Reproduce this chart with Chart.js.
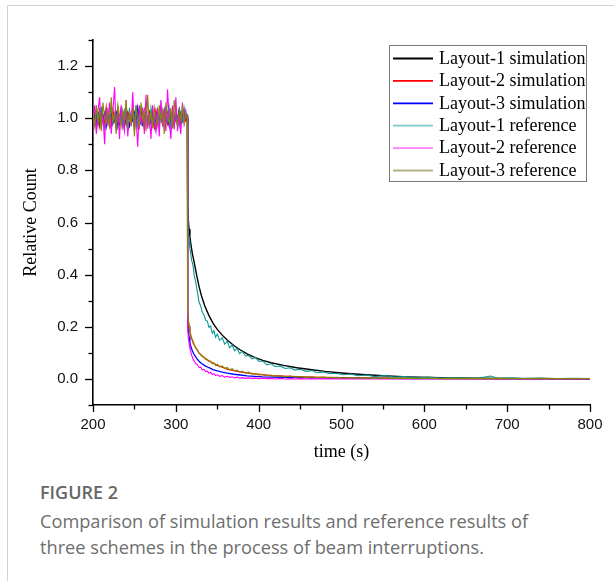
<!DOCTYPE html>
<html>
<head>
<meta charset="utf-8">
<script src="https://cdn.jsdelivr.net/npm/chart.js@4.4.1/dist/chart.umd.min.js"></script>
<style>
  html, body { margin: 0; padding: 0; background: #fff; }
  body { width: 614px; height: 581px; position: relative; overflow: hidden; }
  #frame { position: absolute; left: 7px; top: 5px; width: 620px; height: 600px;
           border-top: 1px solid #d2d2d2; border-left: 1px solid #d2d2d2; }
  #c { position: absolute; left: 0; top: 0; }
  .cap { position: absolute; left: 40px; font-family: "Open Sans", "Noto Sans", sans-serif; color: #6e6e6e; white-space: nowrap; }
  #figno { top: 480px; font-size: 18px; font-weight: 600; color: #666; }
  #capt { top: 508px; font-size: 18.2px; line-height: 26px; }
</style>
</head>
<body>
<div id="frame"></div>
<canvas id="c" width="614" height="470"></canvas>
<div class="cap" id="figno">FIGURE 2</div>
<div class="cap" id="capt">Comparison of simulation results and reference results of<br>three schemes in the process of beam interruptions.</div>
<script>
// ---------- data ----------
const seriesNames = ["Layout-1 simulation","Layout-2 simulation","Layout-3 simulation",
                     "Layout-1 reference","Layout-2 reference","Layout-3 reference"];
const xTicks = [200,300,400,500,600,700,800];
const yTicks = [0.0,0.2,0.4,0.6,0.8,1.0,1.2];

// time points while the beam is on (s)
const tNoise = [200,202,204,206,208,210,212,214,216,218,
                220,222,224,226,228,230,232,234,236,238,
                240,242,244,246,248,250,252,254,256,258,
                260,262,264,266,268,270,272,274,276,278,
                280,282,284,286,288,290,292,294,296,298,
                300,302,304,306,308,310,312,314];
// time points after interruption, simulation curves (s)
const tSim = [314.3,315,316,317,318, 320,322,325,328,331, 335,340,345,350,356,
              362,370,378,386,395, 405,415,430,446,462, 480,500,525,550,580,
              620,660,700,750,800];
// time points after interruption, reference curves (s)
const tRef = [314.3,315,316,317,318,319,320,321,322,324,
              326,328,330,332,334,336,338,340,342,344,
              346,348,350,353,356,359,362,365,368,371,
              374,377,380,384,388,392,396,400,405,410,
              415,420,426,432,438,444,450,457,464,471,
              478,486,494,502,511,520,530,540,552,564,
              576,590,605,620,636,652,668,680,690,705,
              720,740,760,780,800];

// beam-on relative counts
const l1SimOn = [1.01,0.99,1.02,0.98,1.00,1.03,0.99,1.01,0.98,1.02,
                 1.00,0.97,1.01,0.99,1.02,1.00,0.98,1.03,0.99,1.01,
                 0.98,1.02,1.00,0.99,1.01,0.97,1.02,1.00,0.99,1.03,
                 0.98,1.01,1.00,0.98,1.02,0.99,1.01,0.97,1.02,1.00,
                 0.99,1.03,0.98,1.01,0.99,1.02,1.00,0.98,1.01,0.99,
                 1.03,0.98,1.00,1.02,0.99,1.01,1.00,1.00];
const l2SimOn = [1.00,1.03,0.98,1.01,0.97,1.02,1.00,0.98,1.04,0.99,
                 1.01,0.97,1.03,1.00,0.98,1.02,0.99,1.03,0.97,1.01,
                 1.00,0.98,1.02,0.99,1.04,0.98,1.00,1.02,0.97,1.01,
                 0.99,1.03,1.00,0.98,1.02,0.99,1.01,0.97,1.03,1.00,
                 0.98,1.02,1.00,0.99,1.03,0.98,1.01,0.99,1.02,0.97,
                 1.01,1.00,1.03,0.98,1.00,1.02,0.99,1.00];
const l3SimOn = [0.99,1.02,0.97,1.01,1.03,0.98,1.00,1.02,0.97,1.01,
                 0.99,1.03,0.98,1.00,1.02,0.97,1.01,0.99,1.02,0.98,
                 1.03,1.00,0.97,1.01,0.99,1.02,0.98,1.04,1.00,0.98,
                 1.01,0.97,1.02,0.99,1.01,0.98,1.03,1.00,0.97,1.02,
                 0.99,1.01,0.98,1.03,0.99,1.00,0.97,1.02,1.00,0.98,
                 1.01,0.99,1.03,0.98,1.01,0.99,1.00,1.01];
const l1RefOn = [1.01,0.98,1.03,0.97,1.02,1.04,0.99,0.96,1.03,1.00,
                 0.97,1.05,0.98,1.01,0.96,1.04,0.99,1.02,0.97,1.03,
                 1.00,0.95,1.04,0.98,1.02,0.99,1.05,0.97,1.01,0.98,
                 1.03,0.96,1.02,1.00,0.97,1.04,0.99,1.01,0.96,1.03,
                 0.98,1.05,1.00,0.97,1.02,0.99,1.04,0.96,1.01,0.98,
                 1.03,1.00,0.97,1.02,0.99,1.04,1.00,1.01];
const l2RefOn = [0.98,1.05,0.94,1.03,1.08,0.96,1.01,0.90,1.04,0.97,
                 1.06,0.94,1.02,1.12,0.96,1.04,0.92,1.05,0.99,0.95,
                 1.07,0.93,1.03,0.97,1.10,0.95,1.00,0.89,1.05,0.98,
                 1.04,0.94,1.09,0.96,1.02,0.92,1.05,0.99,0.95,1.04,
                 0.93,1.07,0.97,1.03,0.95,1.11,0.99,0.92,1.05,0.96,
                 1.08,0.95,1.01,0.94,1.06,0.98,1.03,0.99];
const l3RefOn = [1.02,0.97,1.05,0.99,1.03,0.95,1.06,1.00,0.98,1.04,
                 0.96,1.08,0.99,1.02,0.94,1.05,1.01,0.97,1.03,0.99,
                 1.07,0.96,1.02,0.98,1.04,0.93,1.05,1.00,0.97,1.06,
                 0.99,1.03,0.95,1.09,0.98,1.02,0.96,1.04,1.00,0.97,
                 1.05,0.99,1.03,0.94,1.06,1.01,0.98,1.04,0.96,1.07,
                 1.00,0.97,1.03,0.99,1.05,0.98,1.02,1.01];

// after-interruption relative counts
const l1SimOff = [0.66,0.61,0.575,0.545,0.52, 0.48,0.45,0.40,0.355,0.318,
                  0.28,0.243,0.213,0.19,0.168, 0.149,0.128,0.111,0.096,0.083,
                  0.071,0.062,0.052,0.043,0.036, 0.029,0.023,0.017,0.012,0.008,
                  0.005,0.003,0.002,0.001,0.0005];
const l2SimOff = [0.26,0.225,0.20,0.18,0.165, 0.148,0.132,0.115,0.10,0.09,
                  0.08,0.069,0.06,0.052,0.045, 0.038,0.032,0.027,0.023,0.019,
                  0.016,0.013,0.011,0.009,0.007, 0.006,0.005,0.004,0.003,0.0025,
                  0.002,0.0015,0.001,0.001,0.0005];
const l3SimOff = [0.22,0.185,0.16,0.14,0.125, 0.107,0.094,0.08,0.068,0.059,
                  0.051,0.043,0.036,0.031,0.026, 0.022,0.018,0.015,0.012,0.01,
                  0.008,0.007,0.006,0.005,0.004, 0.003,0.003,0.002,0.002,0.0015,
                  0.001,0.001,0.0005,0.0005,0];
const l1RefOff = [0.62,0.57,0.53,0.50,0.48,0.455,0.445,0.43,0.40,0.37,
                  0.335,0.295,0.28,0.255,0.245,0.225,0.222,0.198,0.203,0.175,
                  0.185,0.16,0.172,0.148,0.158,0.133,0.145,0.12,0.13,0.108,
                  0.118,0.097,0.106,0.088,0.09,0.076,0.083,0.068,0.068,0.054,
                  0.058,0.047,0.05,0.04,0.043,0.034,0.037,0.029,0.032,0.024,
                  0.027,0.02,0.022,0.016,0.019,0.012,0.015,0.009,0.013,0.007,
                  0.009,0.004,0.007,0.003,0.005,0.002,0.004,0.011,0.002,0.004,
                  0.001,0.003,0.001,0.002,0.001];
const l2RefOff = [0.20,0.16,0.135,0.115,0.105,0.09,0.085,0.073,0.07,0.058,
                  0.055,0.044,0.045,0.035,0.037,0.028,0.03,0.022,0.025,0.017,
                  0.02,0.013,0.016,0.01,0.013,0.007,0.01,0.006,0.008,0.004,
                  0.007,0.003,0.005,0.002,0.004,0.002,0.003,0.001,0.003,0.001,
                  0.002,0.0,0.002,0.0,0.001,0.0,0.001,0.0,0.001,0.0,
                  0.001,0.0,0.001,0.0,0.001,0.0,0.0,0.0,0.001,0.0,
                  0.0,0.0,0.001,0.0,0.0,0.0,0.0,0.0,0.0,0.0,
                  0.0,0.0,0.0,0.0,0.0];
const l3RefOff = [0.27,0.23,0.205,0.18,0.17,0.155,0.15,0.135,0.132,0.118,
                  0.112,0.098,0.095,0.085,0.084,0.074,0.075,0.066,0.068,0.058,
                  0.062,0.052,0.056,0.046,0.05,0.04,0.044,0.035,0.039,0.031,
                  0.034,0.026,0.03,0.022,0.026,0.018,0.021,0.015,0.018,0.012,
                  0.015,0.01,0.012,0.008,0.011,0.007,0.009,0.006,0.008,0.005,
                  0.007,0.004,0.006,0.003,0.005,0.003,0.004,0.002,0.004,0.002,
                  0.003,0.001,0.003,0.001,0.002,0.001,0.002,0.001,0.002,0.001,
                  0.001,0.002,0.001,0.001,0.001];

const colors = ['#000000','#ff0000','#0000ff','#0a9696','#ff00ff','#888800'];
const legendColors = ['#000000','#ff0000','#0000ff','#7fcaca','#ff7fff','#b3b380'];

// ---------- build ----------
function pts(tA, vA) {
  const n = Math.min(tA.length, vA.length), out = [];
  for (let i = 0; i < n; i++) out.push({x: tA[i], y: vA[i]});
  return out;
}
const seriesData = [
  pts(tNoise, l1SimOn).concat(pts(tSim, l1SimOff)),
  pts(tNoise, l2SimOn).concat(pts(tSim, l2SimOff)),
  pts(tNoise, l3SimOn).concat(pts(tSim, l3SimOff)),
  pts(tNoise, l1RefOn).concat(pts(tRef, l1RefOff)),
  pts(tNoise, l2RefOn).concat(pts(tRef, l2RefOff)),
  pts(tNoise, l3RefOn).concat(pts(tRef, l3RefOff))
];
const drawOrder = [5, 4, 3, 2, 1, 0]; // later series drawn on top
const widths = [1.4, 1.3, 1.3, 1.1, 1.1, 1.1];

const datasets = seriesNames.map((name, i) => ({
  label: name, data: seriesData[i], borderColor: colors[i], backgroundColor: colors[i],
  borderWidth: widths[i], pointRadius: 0, tension: 0, fill: false, order: drawOrder[i]
}));

const PLOT = {left: 93, right: 590, top: 40, bottom: 405};

const ticksAndLegend = {
  id: 'ticksAndLegend',
  afterDraw(chart) {
    const ctx = chart.ctx;
    const xs = chart.scales.x, ys = chart.scales.y;
    const ca = chart.chartArea;
    ctx.save();
    ctx.strokeStyle = '#000';
    ctx.lineWidth = 1.3;
    ys.ticks.forEach(t => {
      const py = Math.round(ys.getPixelForValue(t.value)) + 0.5;
      const major = yTicks.some(v => Math.abs(v - t.value) < 1e-6);
      const len = major ? 8 : 4.5;
      ctx.beginPath(); ctx.moveTo(ca.left, py); ctx.lineTo(ca.left - len, py); ctx.stroke();
    });
    xs.ticks.forEach(t => {
      const px = Math.round(xs.getPixelForValue(t.value)) + 0.5;
      const major = xTicks.some(v => Math.abs(v - t.value) < 1e-6);
      const len = major ? 7 : 4.5;
      ctx.beginPath(); ctx.moveTo(px, ca.bottom); ctx.lineTo(px, ca.bottom + len); ctx.stroke();
    });
    // legend box
    const bx = 389.5, by = 45.5, bw = 197, bh = 136;
    ctx.strokeStyle = '#7a7a7a'; ctx.lineWidth = 1;
    ctx.strokeRect(bx, by, bw, bh);
    ctx.font = '18px "Liberation Serif", "Times New Roman", serif';
    ctx.textBaseline = 'middle'; ctx.textAlign = 'left'; ctx.fillStyle = '#000';
    seriesNames.forEach((name, i) => {
      const yy = 58.5 + i * 22.4;
      ctx.strokeStyle = legendColors[i]; ctx.lineWidth = 1.8;
      ctx.beginPath(); ctx.moveTo(393, yy); ctx.lineTo(433, yy); ctx.stroke();
      ctx.fillText(name, 439, yy + 0.5);
    });
    ctx.restore();
  }
};

new Chart(document.getElementById('c'), {
  type: 'line',
  data: { datasets },
  options: {
    responsive: false, animation: false, devicePixelRatio: 1,
    layout: { padding: { left: 0, right: 614 - PLOT.right, top: PLOT.top, bottom: 0 } },
    plugins: { legend: { display: false }, tooltip: { enabled: false } },
    scales: {
      x: {
        type: 'linear', min: 200, max: 800,
        afterFit: s => { s.height = 470 - PLOT.bottom; },
        border: { display: true, color: '#000', width: 1.6 },
        grid: { display: true, drawOnChartArea: false, drawTicks: false },
        ticks: {
          stepSize: 50, autoSkip: false, maxRotation: 0, padding: 11,
          color: '#111', font: { family: '"Liberation Sans", Arial, sans-serif', size: 15 },
          callback: v => xTicks.some(t => Math.abs(t - v) < 1e-6) ? String(v) : ''
        },
        title: { display: true, text: 'time (s)', color: '#000',
                 font: { family: '"Liberation Serif", "Times New Roman", serif', size: 18 },
                 padding: { top: 0, bottom: 7 } }
      },
      y: {
        type: 'linear', min: -0.1, max: 1.3,
        afterFit: s => { s.width = PLOT.left; },
        border: { display: true, color: '#000', width: 1.6 },
        grid: { display: true, drawOnChartArea: false, drawTicks: false },
        ticks: {
          stepSize: 0.1, autoSkip: false, padding: 15,
          color: '#111', font: { family: '"Liberation Sans", Arial, sans-serif', size: 15 },
          callback: v => {
            const hit = yTicks.find(t => Math.abs(t - v) < 1e-6);
            return hit === undefined ? '' : hit.toFixed(1);
          }
        },
        title: { display: true, text: 'Relative Count', color: '#000',
                 font: { family: '"Liberation Serif", "Times New Roman", serif', size: 18 },
                 padding: { top: 20, bottom: 0 } }
      }
    }
  },
  plugins: [ticksAndLegend]
});
</script>
</body>
</html>
